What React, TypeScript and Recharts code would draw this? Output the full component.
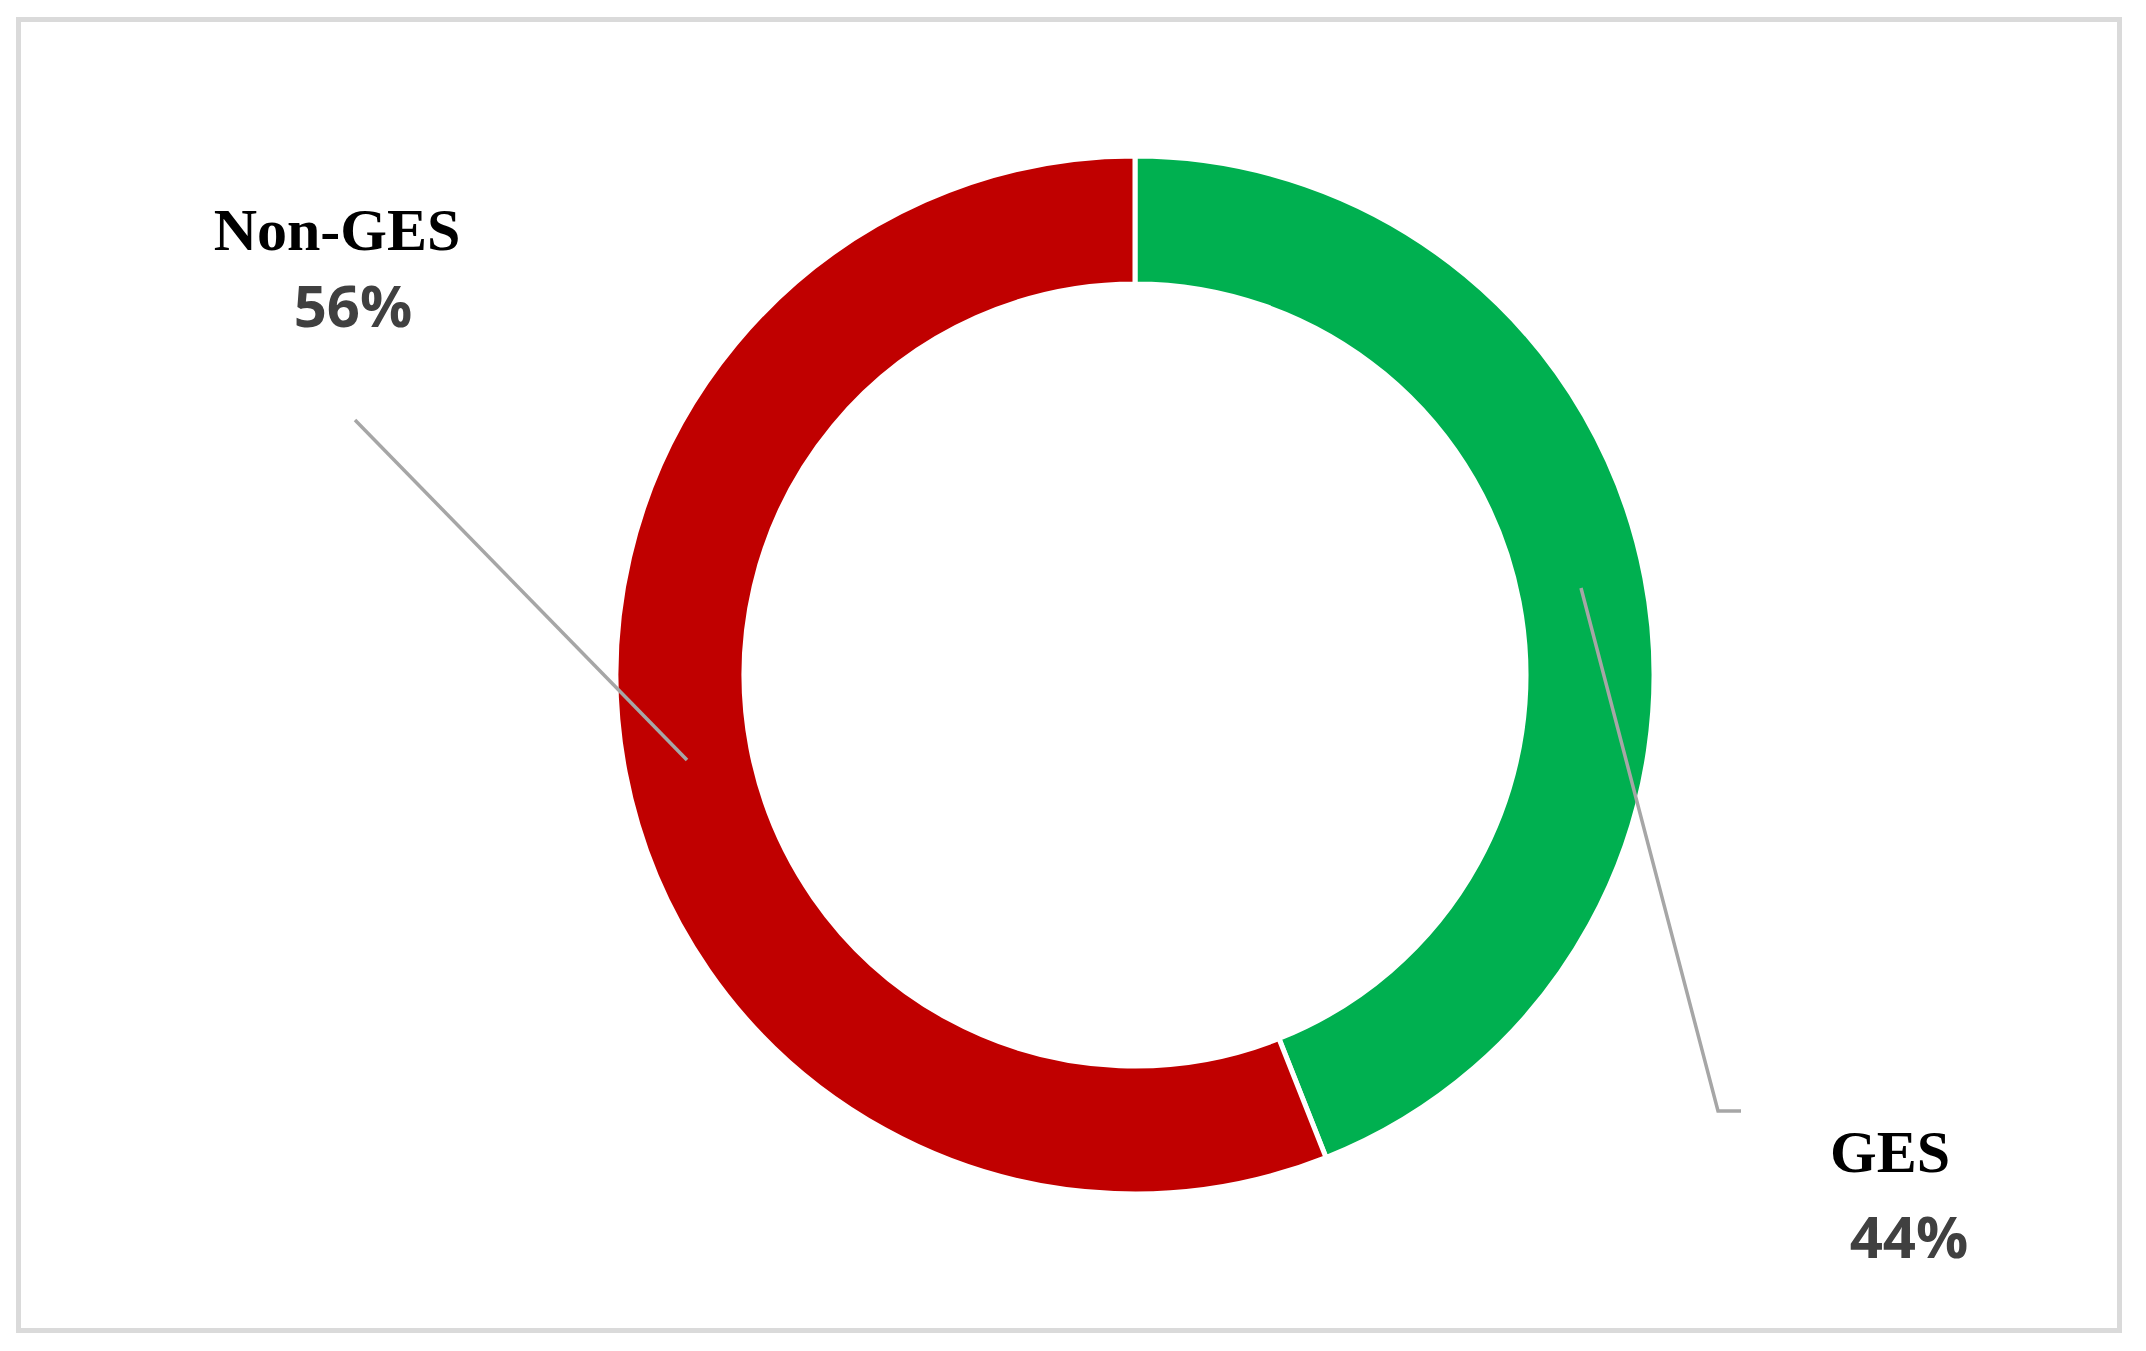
import React from "react";
import { PieChart, Pie, Cell } from "recharts";

const categories = ["GES", "Non-GES"];
const values = [44, 56];
const colors = ["#00B050", "#C00000"];

const data = categories.map((name, i) => ({ name, value: values[i] }));

// label layout offsets relative to pie centre (px)
const labelLayout: Record<string, { name: [number, number]; pct: [number, number]; line: [number, number][] }> = {
  "Non-GES": { name: [-798, -425], pct: [-782, -348], line: [[-780, -255], [-448, 85]] },
  GES: { name: [755, 497], pct: [774, 583], line: [[446, -87], [583, 436], [606, 436]] },
};

const renderLabel = (props: any) => {
  const { cx, cy, index, percent } = props;
  const name = data[index].name;
  const l = labelLayout[name];
  const pts = l.line.map(([dx, dy]) => `${cx + dx},${cy + dy}`).join(" ");
  return (
    <g key={`lbl-${index}`}>
      <polyline points={pts} fill="none" stroke="#A6A6A6" strokeWidth={3.5} />
      <text
        x={cx + l.name[0]}
        y={cy + l.name[1]}
        textAnchor="middle"
        fontFamily="'Liberation Serif', 'Times New Roman', serif"
        fontWeight="bold"
        fontSize={60}
        fill="#000000"
      >
        {name}
      </text>
      <text
        x={cx + l.pct[0]}
        y={cy + l.pct[1]}
        textAnchor="middle"
        fontFamily="'Open Sans', sans-serif"
        fontWeight="bold"
        fontSize={58}
        fill="#404040"
      >
        {`${Math.round(percent * 100)}%`}
      </text>
    </g>
  );
};

export default function App() {
  return (
    <div style={{ position: "absolute", left: 0, top: 0, width: 2146, height: 1351, background: "#fff" }}>
      <div
        style={{
          position: "absolute",
          left: 16,
          top: 17,
          width: 2096,
          height: 1306,
          border: "5px solid #DADADA",
        }}
      />
      <div style={{ position: "absolute", left: 0, top: 0 }}>
        <PieChart width={2146} height={1351} margin={{ top: 0, right: 0, bottom: 0, left: 0 }}>
          <Pie
            data={data}
            dataKey="value"
            nameKey="name"
            cx={1135}
            cy={675}
            innerRadius={391}
            outerRadius={519}
            startAngle={90}
            endAngle={-270}
            stroke="#FFFFFF"
            strokeWidth={5}
            label={renderLabel}
            labelLine={false}
            isAnimationActive={false}
          >
            {data.map((d, i) => (
              <Cell key={d.name} fill={colors[i]} />
            ))}
          </Pie>
        </PieChart>
      </div>
    </div>
  );
}
